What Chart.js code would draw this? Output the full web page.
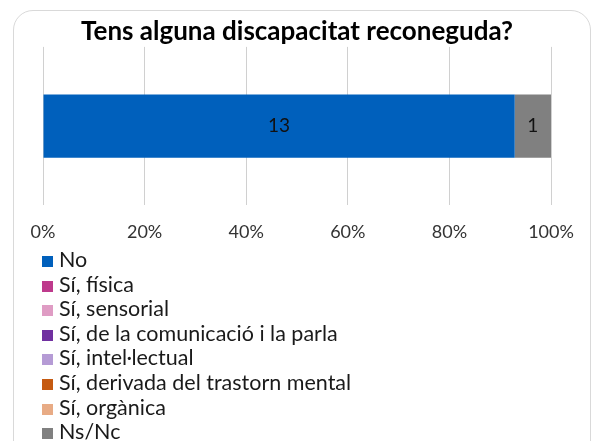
<!DOCTYPE html>
<html>
<head>
<meta charset="utf-8">
<script src="https://cdn.jsdelivr.net/npm/chart.js@4.4.0/dist/chart.umd.min.js"></script>
<style>
  html, body { margin: 0; padding: 0; background: #fff; }
  #wrap { position: relative; width: 591px; height: 441px; overflow: hidden; font-family: Lato, "Open Sans", sans-serif; }
  #frame { position: absolute; left: 13px; top: 10px; width: 576px; height: 470px; border: 1px solid #d9d9d9; border-radius: 20px; }
  #chartBox { position: absolute; left: 0; top: 0; width: 591px; height: 259px; }
  #legend { position: absolute; left: 42px; top: 247px; font-size: 21.5px; color: #1a1a1a; }
  #legend .row { height: 24.6px; line-height: 24.6px; white-space: nowrap; }
  #legend .sw { display: inline-block; width: 11px; height: 11px; margin-right: 6px; vertical-align: 0px; }
</style>
</head>
<body>
<div id="wrap">
  <div id="frame"></div>
  <div id="chartBox"><canvas id="chartCanvas"></canvas></div>
  <div id="legend"></div>
</div>
<script>
var chartTitle = 'Tens alguna discapacitat reconeguda?';
var categories = [''];
var seriesNames = [
	'No',
	'Sí, física',
	'Sí, sensorial',
	'Sí, de la comunicació i la parla',
	'Sí, intel·lectual',
	'Sí, derivada del trastorn mental',
	'Sí, orgànica',
	'Ns/Nc'
];
var seriesCounts = [13, 0, 0, 0, 0, 0, 0, 1];
var tickValues = [0, 20, 40, 60, 80, 100];

var seriesColors = ['#0060BC', '#BE3A8C', '#DF9CC4', '#7030A0', '#B59BD5', '#C55A11', '#E8AB85', '#808080'];

var total = 0;
for (var i in seriesCounts) total += seriesCounts[i];

var datasets = [];
for (var i in seriesNames) {
	datasets.push({
		label: seriesNames[i],
		data: [seriesCounts[i] / total * 100],
		count: seriesCounts[i],
		backgroundColor: seriesColors[i],
		borderWidth: 0,
		categoryPercentage: 0.4,
		barPercentage: 1
	});
}

// count labels in the middle of each non-empty segment
var countLabels = {
	id: 'countLabels',
	afterDatasetsDraw: function(chart) {
		var ctx = chart.ctx;
		ctx.save();
		ctx.font = '19px Lato, "Open Sans", sans-serif';
		ctx.fillStyle = '#111';
		ctx.textAlign = 'center';
		ctx.textBaseline = 'middle';
		chart.data.datasets.forEach(function(ds, di) {
			if (!ds.count) return;
			var meta = chart.getDatasetMeta(di);
			meta.data.forEach(function(bar) {
				ctx.fillText(String(ds.count), (bar.x + bar.base) / 2, bar.y);
			});
		});
		ctx.restore();
	}
};

var chart = new Chart(document.getElementById('chartCanvas'), {
	type: 'bar',
	data: { labels: categories, datasets: datasets },
	plugins: [countLabels],
	options: {
		indexAxis: 'y',
		responsive: true,
		maintainAspectRatio: false,
		animation: false,
		layout: { padding: { left: 43, right: 40, top: 0, bottom: 0 } },
		scales: {
			x: {
				stacked: true,
				min: 0,
				max: 100,
				afterBuildTicks: function(axis) {
					axis.ticks = tickValues.map(function(v) { return { value: v }; });
				},
				border: { display: false },
				grid: { color: '#d0d0d0', drawTicks: false },
				ticks: {
					padding: 16,
					color: '#333',
					font: { family: 'Lato', size: 18 },
					callback: function(v) { return v + '%'; }
				}
			},
			y: {
				stacked: true,
				display: false
			}
		},
		plugins: {
			legend: { display: false },
			tooltip: { enabled: false },
			title: {
				display: true,
				text: chartTitle,
				color: '#000',
				font: { family: 'Lato', size: 26, weight: 'bold', lineHeight: 1.15 },
				padding: { top: 17, bottom: 0 }
			}
		}
	}
});

var legendBox = document.getElementById('legend');
chart.data.datasets.forEach(function(ds) {
	var row = document.createElement('div');
	row.className = 'row';
	var sw = document.createElement('span');
	sw.className = 'sw';
	sw.style.background = ds.backgroundColor;
	row.appendChild(sw);
	row.appendChild(document.createTextNode(ds.label));
	legendBox.appendChild(row);
});
</script>
</body>
</html>
